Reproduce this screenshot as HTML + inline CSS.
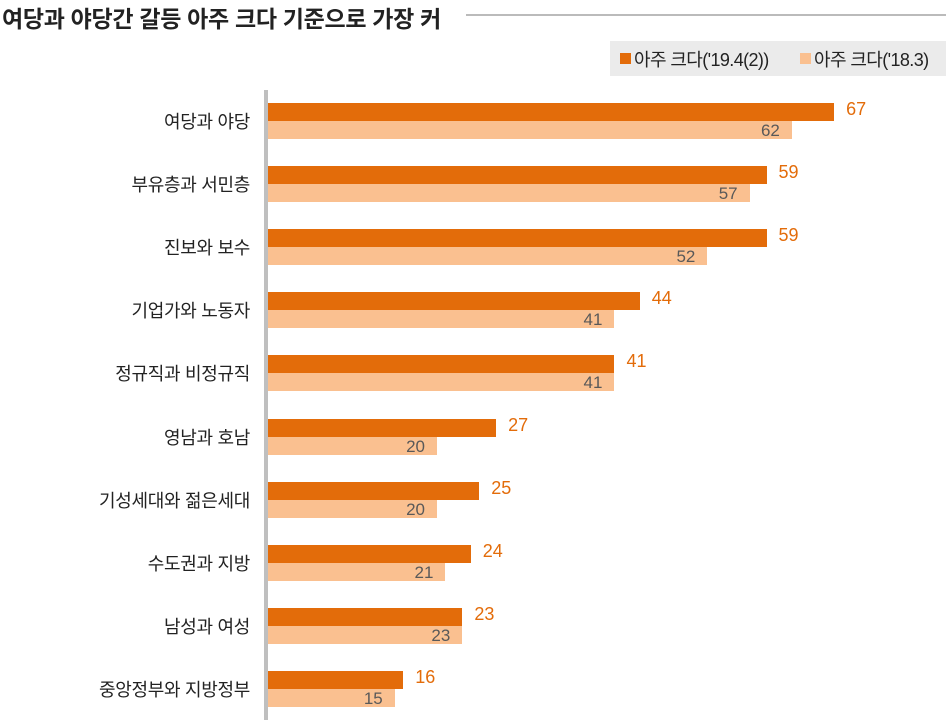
<!DOCTYPE html>
<html><head><meta charset="utf-8"><style>
body{margin:0;width:946px;height:720px;background:#fff;position:relative;overflow:hidden;font-family:"Liberation Sans","Noto Sans CJK KR",sans-serif}
.a{position:absolute}
.cat{position:absolute;right:696px;font-size:18px;color:#222;white-space:nowrap;letter-spacing:-0.3px}
.d{position:absolute;left:268px;height:18px;background:#e36c0a}
.l{position:absolute;left:268px;height:18px;background:#fac090}
.dv{position:absolute;font-size:18px;color:#e36c0a}
.lv{position:absolute;font-size:17px;color:#595959;text-align:right;width:40px}
</style></head><body>
<div class="a" style="left:2px;top:0px;font-size:23px;font-weight:bold;color:#222;letter-spacing:-0.3px;white-space:nowrap">여당과 야당간 갈등 아주 크다 기준으로 가장 커</div>
<div class="a" style="left:466px;top:14px;width:480px;height:2px;background:#bbb"></div>
<div class="a" style="left:610px;top:41px;width:336px;height:35px;background:#ebebeb"></div>
<div class="a" style="left:620px;top:53px;width:11px;height:11px;background:#e36c0a"></div>
<div class="a" style="left:634px;top:46px;font-size:18px;color:#222;white-space:nowrap;letter-spacing:-0.6px">아주 크다('19.4(2))</div>
<div class="a" style="left:800px;top:53px;width:11px;height:11px;background:#fac090"></div>
<div class="a" style="left:814px;top:46px;font-size:18px;color:#222;white-space:nowrap;letter-spacing:-0.6px">아주 크다('18.3)</div>
<div class="a" style="left:264px;top:90px;width:4px;height:630px;background:#bfbfbf"></div>
<div id="c"></div>
<script>
var data=[["여당과 야당",67,62],["부유층과 서민층",59,57],["진보와 보수",59,52],["기업가와 노동자",44,41],["정규직과 비정규직",41,41],["영남과 호남",27,20],["기성세대와 젊은세대",25,20],["수도권과 지방",24,21],["남성과 여성",23,23],["중앙정부와 지방정부",16,15]];
var h="";data.forEach(function(r,i){var y=103+i*63.1;var w1=r[1]*8.45,w2=r[2]*8.45;
h+='<div class="cat" style="top:'+(y+5)+'px">'+r[0]+'</div>';
h+='<div class="d" style="top:'+y+'px;width:'+w1+'px"></div>';
h+='<div class="l" style="top:'+(y+18)+'px;width:'+w2+'px"></div>';
h+='<div class="dv" style="left:'+(268+w1+12)+'px;top:'+(y-4)+'px">'+r[1]+'</div>';
h+='<div class="lv" style="left:'+(268+w2-52)+'px;top:'+(y+18)+'px">'+r[2]+'</div>';});
document.getElementById("c").innerHTML=h;
</script>
</body></html>
